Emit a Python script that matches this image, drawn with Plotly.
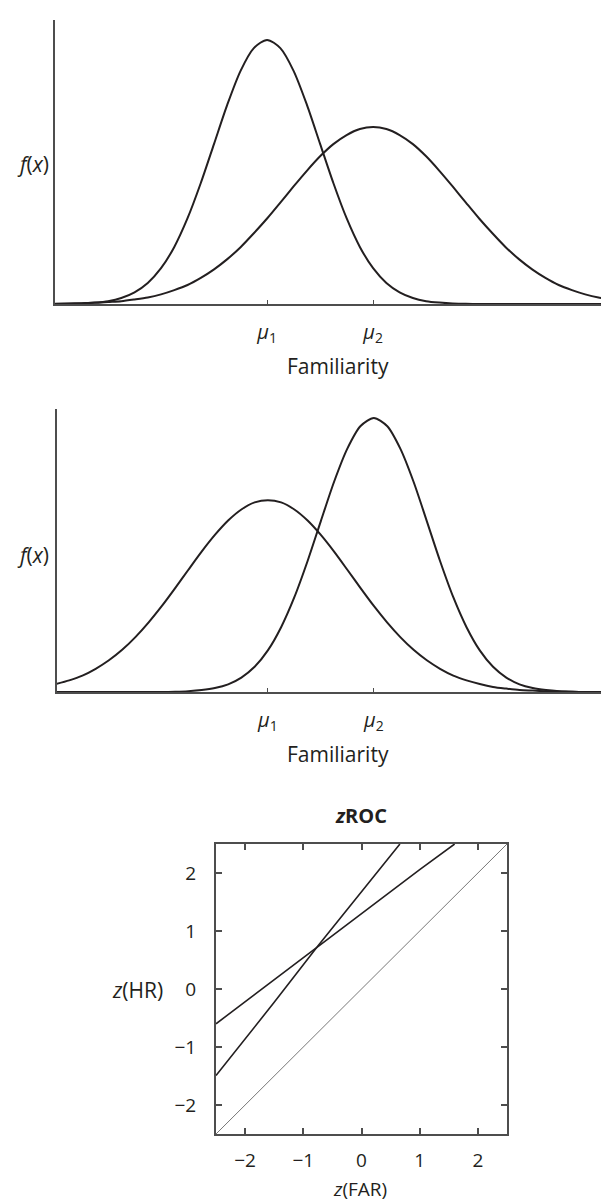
import plotly.graph_objects as go

# familiarity axis (points every quarter unit)
fam_x = [-4.0, -3.75, -3.5, -3.25, -3.0, -2.75, -2.5, -2.25, -2.0, -1.75, -1.5, -1.25,
         -1.0, -0.75, -0.5, -0.25, 0.0, 0.25, 0.5, 0.75, 1.0, 1.25, 1.5, 1.75,
         2.0, 2.25, 2.5, 2.75, 3.0, 3.25, 3.5, 3.75, 4.0, 4.25, 4.5, 4.75,
         5.0, 5.25, 5.5, 5.75, 6.0, 6.25, 6.5, 6.75, 7.0]

# top panel: narrow new-item curve, wide old-item curve
top_mu1 = [0.000, 0.001, 0.002, 0.005, 0.010, 0.021, 0.041, 0.074, 0.126, 0.201, 0.302, 0.426,
           0.564, 0.702, 0.821, 0.901, 0.930, 0.901, 0.821, 0.702, 0.564, 0.426, 0.302, 0.201,
           0.126, 0.074, 0.041, 0.021, 0.010, 0.005, 0.002, 0.001, 0.000, 0.000, 0.000, 0.000,
           0.000, 0.000, 0.000, 0.000, 0.000, 0.000, 0.000, 0.000, 0.000]
top_mu2 = [0.001, 0.002, 0.003, 0.004, 0.007, 0.010, 0.016, 0.023, 0.034, 0.049, 0.067, 0.092,
           0.122, 0.158, 0.200, 0.249, 0.301, 0.357, 0.414, 0.469, 0.520, 0.563, 0.595, 0.616,
           0.623, 0.616, 0.595, 0.563, 0.520, 0.469, 0.414, 0.357, 0.301, 0.249, 0.200, 0.158,
           0.122, 0.092, 0.067, 0.049, 0.034, 0.023, 0.016, 0.010, 0.007]

# middle panel: wide new-item curve, narrow old-item curve
mid_mu1 = [0.028, 0.041, 0.058, 0.082, 0.112, 0.149, 0.194, 0.246, 0.304, 0.367, 0.432, 0.496,
           0.555, 0.606, 0.645, 0.670, 0.678, 0.670, 0.645, 0.606, 0.555, 0.496, 0.432, 0.367,
           0.304, 0.246, 0.194, 0.149, 0.112, 0.082, 0.058, 0.041, 0.028, 0.018, 0.012, 0.007,
           0.005, 0.003, 0.002, 0.001, 0.000, 0.000, 0.000, 0.000, 0.000]
mid_mu2 = [0.000, 0.000, 0.000, 0.000, 0.000, 0.000, 0.000, 0.000, 0.000, 0.001, 0.003, 0.007,
           0.014, 0.027, 0.051, 0.089, 0.147, 0.229, 0.335, 0.463, 0.604, 0.743, 0.860, 0.940,
           0.968, 0.940, 0.860, 0.743, 0.604, 0.463, 0.335, 0.229, 0.147, 0.089, 0.051, 0.027,
           0.014, 0.007, 0.003, 0.001, 0.000, 0.000, 0.000, 0.000, 0.000]

mu_vals = [0.0, 2.0]
mu_text = ["<i>μ</i><sub>1</sub>", "<i>μ</i><sub>2</sub>"]

# zROC lines
far_shallow = [-2.5, -1.5, -0.75, 0.0, 1.0, 1.6]
hr_shallow = [-0.60, 0.16, 0.74, 1.31, 2.06, 2.50]
far_steep = [-2.5, -1.5, -0.75, 0.0, 0.66]
hr_steep = [-1.49, -0.23, 0.74, 1.68, 2.50]
far_diag = [-2.5, 2.5]
hr_diag = [-2.5, 2.5]
z_ticks = [-2, -1, 0, 1, 2]
z_text = ["\u22122", "\u22121", "0", "1", "2"]

W, H = 609, 1201
ink = "#231f20"
axis_col = "#4d4d4d"
font = "Open Sans"


def px(x):
    return x / W


def py(y):
    return 1 - y / H


fig = go.Figure()
curve = dict(mode="lines", line=dict(color=ink, width=2, shape="spline", smoothing=0.8),
             showlegend=False, hoverinfo="skip")
fig.add_trace(go.Scatter(x=fam_x, y=top_mu1, xaxis="x", yaxis="y", **curve))
fig.add_trace(go.Scatter(x=fam_x, y=top_mu2, xaxis="x", yaxis="y", **curve))
fig.add_trace(go.Scatter(x=fam_x, y=mid_mu1, xaxis="x2", yaxis="y2", **curve))
fig.add_trace(go.Scatter(x=fam_x, y=mid_mu2, xaxis="x2", yaxis="y2", **curve))

fig.add_trace(go.Scatter(x=far_shallow, y=hr_shallow, xaxis="x3", yaxis="y3", mode="lines",
                         line=dict(color=ink, width=1.6), showlegend=False))
fig.add_trace(go.Scatter(x=far_steep, y=hr_steep, xaxis="x3", yaxis="y3", mode="lines",
                         line=dict(color=ink, width=1.6), showlegend=False))
fig.add_trace(go.Scatter(x=far_diag, y=hr_diag, xaxis="x3", yaxis="y3", mode="lines",
                         line=dict(color="#555555", width=0.8), showlegend=False))

fam_x_axis = dict(showline=True, linecolor=axis_col, linewidth=2, showgrid=False, zeroline=False,
                  tickmode="array", tickvals=mu_vals, ticktext=mu_text, ticks="inside",
                  ticklen=4, tickwidth=1, tickcolor=axis_col, ticklabelstandoff=9,
                  tickfont=dict(family=font, size=20, color=ink))
fam_y_axis = dict(showline=True, linecolor=axis_col, linewidth=2, showgrid=False, zeroline=False,
                  showticklabels=False, ticks="", range=[0, 1])

z_axis = dict(range=[-2.5, 2.5], showline=True, mirror="ticks", linecolor=axis_col, linewidth=2,
              showgrid=False, zeroline=False, tickmode="array", tickvals=z_ticks, ticktext=z_text,
              ticks="inside", ticklen=6, tickwidth=1.5, tickcolor=axis_col,
              tickfont=dict(family=font, size=19, color=ink))

fig.update_layout(
    width=W, height=H,
    margin=dict(l=0, r=0, t=0, b=0),
    paper_bgcolor="white", plot_bgcolor="white",
    font=dict(family=font, color=ink),
    xaxis=dict(domain=[px(47), 1], range=[-4, 6.6], anchor="y", **fam_x_axis),
    yaxis=dict(domain=[py(296), py(12)], anchor="x", **fam_y_axis),
    xaxis2=dict(domain=[px(49), 1], range=[-3.98, 6.59], anchor="y2", **fam_x_axis),
    yaxis2=dict(domain=[py(684), py(401)], anchor="x2", **fam_y_axis),
    xaxis3=dict(domain=[px(208), px(499)], anchor="y3", ticklabelstandoff=8, **z_axis),
    yaxis3=dict(domain=[py(1126), py(836)], anchor="x3", ticklabelstandoff=14, **z_axis),
)

labels = [
    ("Familiarity", 330, 358, 21),
    ("Familiarity", 330, 746, 21),
    ("<i>f</i>(<i>x</i>)", 25, 156, 21),
    ("<i>f</i>(<i>x</i>)", 25, 547, 21),
    ("<b><i>z</i>ROC</b>", 353, 807, 20),
    ("<i>z</i>(FAR)", 352, 1181, 19),
    ("<i>z</i>(HR)", 129, 982, 21),
]
for text, lx, ly, size in labels:
    fig.add_annotation(text=text, x=px(lx), y=py(ly), xref="paper", yref="paper",
                       xanchor="center", yanchor="middle", showarrow=False,
                       font=dict(family=font, size=size, color=ink))

fig.write_html("out.html")
